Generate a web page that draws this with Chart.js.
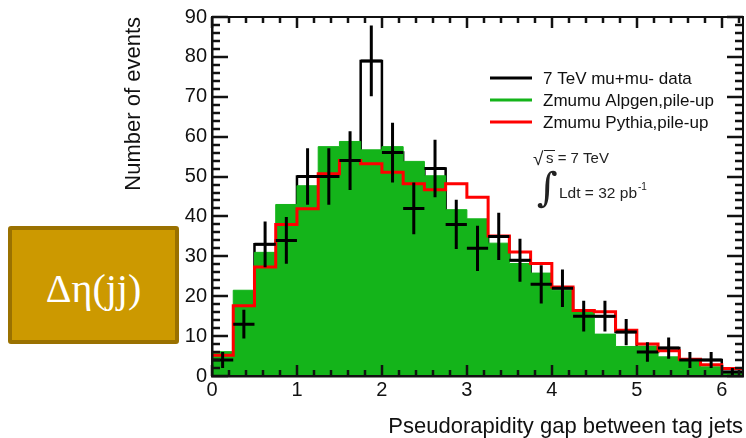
<!DOCTYPE html>
<html>
<head>
<meta charset="utf-8">
<script src="https://cdn.jsdelivr.net/npm/chart.js@4.4.0/dist/chart.umd.min.js"></script>
<style>
  body { margin: 0; background: #fff; }
  #wrap { position: relative; width: 746px; height: 438px; }
  #tag {
    position: absolute; left: 8px; top: 226px; width: 171px; height: 118px;
    box-sizing: border-box; padding-top: 6px;
    background: #cc9900; border: 4px solid #9a7100; border-radius: 3px;
    color: #fff; font: 40px "Liberation Serif", "Times New Roman", serif;
    display: flex; align-items: center; justify-content: center;
  }
</style>
</head>
<body>
<div id="wrap">
  <canvas id="hist" width="746" height="438"></canvas>
  <div id="tag">Δη(jj)</div>
</div>
<script>
// 25 bins of 0.25 in eta gap, from 0 to 6.25
const binWidth = 0.25;
const dataCounts = [4, 13, 33, 34, 50, 50, 54, 79, 56, 42, 52, 38, 32, 35, 29, 23, 22, 15, 15, 11, 6, 7, 4, 4, 1];
const alpgen = [6.1, 21.5, 31, 43, 47.7, 57.5, 58.8, 56.7, 57.5, 53.8, 50.2, 41.7, 39.4, 33.3, 28.2, 25.8, 21.5, 16.2, 10.5, 7.4, 7.5, 4.8, 4, 2.3, 1.1];
const pythia = [5.2, 17.6, 27.3, 38, 41.9, 50.7, 54, 53.2, 51.1, 48.2, 46.7, 48.2, 44.8, 35.1, 31.1, 28.2, 22.3, 16.4, 16.1, 11.5, 8, 6.3, 4.2, 2.8, 1.9];
const xTicks = [0, 1, 2, 3, 4, 5, 6];
const yTicks = [0, 10, 20, 30, 40, 50, 60, 70, 80, 90];

const xMax = dataCounts.length * binWidth;
const font = '"Liberation Sans", Arial, sans-serif';

// histogram -> points on the left bin edges, held until the next edge
function toSteps(vals) {
  const pts = vals.map((v, i) => ({x: i * binWidth, y: v}));
  pts.push({x: vals.length * binWidth, y: vals[vals.length - 1]});
  return pts;
}

// data crosses: horizontal bar across the bin, vertical bar +- sqrt(N)
function drawErrorBars(chart) {
  const {ctx, chartArea: a, scales: {x, y}} = chart;
  ctx.save();
  ctx.beginPath();
  ctx.rect(a.left, a.top, a.right - a.left, a.bottom - a.top);
  ctx.clip();
  ctx.strokeStyle = '#000';
  ctx.lineWidth = 3;
  ctx.beginPath();
  dataCounts.forEach((n, i) => {
    const lo = i * binWidth, mid = lo + binWidth / 2;
    const err = Math.sqrt(n);
    ctx.moveTo(x.getPixelForValue(lo), y.getPixelForValue(n));
    ctx.lineTo(x.getPixelForValue(lo + binWidth), y.getPixelForValue(n));
    ctx.moveTo(x.getPixelForValue(mid), y.getPixelForValue(n - err));
    ctx.lineTo(x.getPixelForValue(mid), y.getPixelForValue(n + err));
  });
  ctx.stroke();
  ctx.restore();
}

// frame with inward ticks on all four sides
function drawFrame(chart) {
  const {ctx, chartArea: a, scales: {x, y}} = chart;
  const L = Math.round(a.left), R = Math.round(a.right);
  const T = Math.round(a.top), B = Math.round(a.bottom);
  ctx.save();
  ctx.fillStyle = '#111';
  ctx.fillRect(L - 1, T - 1, R - L + 2, 2);
  ctx.fillRect(L - 1, B - 1, R - L + 2, 2.5);
  ctx.fillRect(L - 1, T - 1, 2.5, B - T + 2);
  ctx.fillRect(R - 1, T - 1, 2, B - T + 2);
  // x: major every 1, minor every 0.2
  for (let k = 0; k <= 31; k++) {
    const px = Math.round(x.getPixelForValue(k * 0.2));
    const len = k % 5 === 0 ? 11 : 6;
    ctx.fillRect(px - 1.25, B - len, 2.5, len);
    ctx.fillRect(px - 1.25, T, 2.5, len);
  }
  // y: major every 10, minor every 2
  for (let v = 0; v <= 90; v += 2) {
    const py = Math.round(y.getPixelForValue(v));
    const len = v % 10 === 0 ? 16 : 8;
    ctx.fillRect(L, py - 1.25, len, 2.5);
    ctx.fillRect(R - len, py - 1.25, len, 2.5);
  }
  ctx.restore();
}

// legend entries and the energy / luminosity note
function drawLegend(chart) {
  const ctx = chart.ctx;
  const sets = chart.data.datasets;
  ctx.save();
  ctx.font = '17px ' + font;
  ctx.textBaseline = 'alphabetic';
  [2, 1, 0].forEach((idx, row) => {
    const ds = sets[idx];
    const yLine = 78 + row * 22;
    ctx.strokeStyle = ds.borderColor;
    ctx.lineWidth = 3;
    ctx.beginPath();
    ctx.moveTo(490, yLine);
    ctx.lineTo(532, yLine);
    ctx.stroke();
    ctx.fillStyle = '#111';
    ctx.fillText(ds.label, 543, yLine + 6);
  });

  ctx.fillStyle = '#222';
  ctx.strokeStyle = '#222';
  ctx.font = '19px ' + font;
  ctx.fillText('\u221A', 533, 165);
  ctx.font = '15px ' + font;
  ctx.fillText('s = 7 TeV', 546, 163);
  ctx.lineWidth = 1;
  ctx.beginPath();
  ctx.moveTo(544, 150.5);
  ctx.lineTo(555, 150.5);
  ctx.stroke();

  ctx.font = '40px "DejaVu Serif", serif';
  ctx.fillText('\u222B', 537, 201);
  ctx.font = '15.5px ' + font;
  const lum = 'Ldt = 32 pb';
  ctx.fillText(lum, 559, 198);
  const end = 559 + ctx.measureText(lum).width;
  ctx.font = '10px ' + font;
  ctx.fillText('-1', end + 1, 190);
  ctx.restore();
}

const overlay = {
  id: 'overlay',
  afterDraw(chart) {
    drawErrorBars(chart);
    drawFrame(chart);
    drawLegend(chart);
  }
};

const ctx = document.getElementById('hist').getContext('2d');
const histChart = new Chart(ctx, {
  type: 'line',
  data: {
    datasets: [
      {
        label: 'Zmumu Pythia,pile-up',
        data: toSteps(pythia),
        stepped: true,
        borderColor: '#ff0000',
        borderWidth: 3,
        pointRadius: 0,
        fill: false,
        order: 0
      },
      {
        label: 'Zmumu Alpgen,pile-up',
        data: toSteps(alpgen),
        stepped: true,
        borderColor: '#14b41a',
        borderWidth: 1,
        backgroundColor: '#14b41a',
        pointRadius: 0,
        fill: 'origin',
        order: 1
      },
      {
        label: '7 TeV mu+mu- data',
        data: toSteps(dataCounts),
        stepped: true,
        borderColor: '#000000',
        borderWidth: 2.5,
        pointRadius: 0,
        fill: false,
        order: 2
      }
    ]
  },
  options: {
    responsive: false,
    animation: false,
    events: [],
    layout: {padding: {left: 0, top: 16, right: 3, bottom: 0}},
    plugins: {legend: {display: false}, tooltip: {enabled: false}},
    scales: {
      x: {
        type: 'linear',
        min: 0,
        max: xMax,
        grid: {display: false, drawTicks: false},
        border: {display: false},
        afterBuildTicks: (scale) => { scale.ticks = xTicks.map(v => ({value: v})); },
        afterFit: (scale) => { scale.height = 62; },
        ticks: {color: '#111', padding: 2, maxRotation: 0, font: {family: font, size: 20}},
        title: {
          display: true,
          text: 'Pseudorapidity gap between tag jets',
          align: 'end',
          color: '#111',
          padding: 0,
          font: {family: font, size: 22, lineHeight: 1}
        }
      },
      y: {
        min: 0,
        max: 90,
        grid: {display: false, drawTicks: false},
        border: {display: false},
        afterBuildTicks: (scale) => { scale.ticks = yTicks.map(v => ({value: v})); },
        afterFit: (scale) => { scale.width = 212; },
        ticks: {color: '#111', padding: 5, font: {family: font, size: 20}},
        title: {
          display: true,
          text: 'Number of events',
          align: 'end',
          color: '#111',
          padding: {top: 123, bottom: 0},
          font: {family: font, size: 22, lineHeight: 1}
        }
      }
    }
  },
  plugins: [overlay]
});
</script>
</body>
</html>
